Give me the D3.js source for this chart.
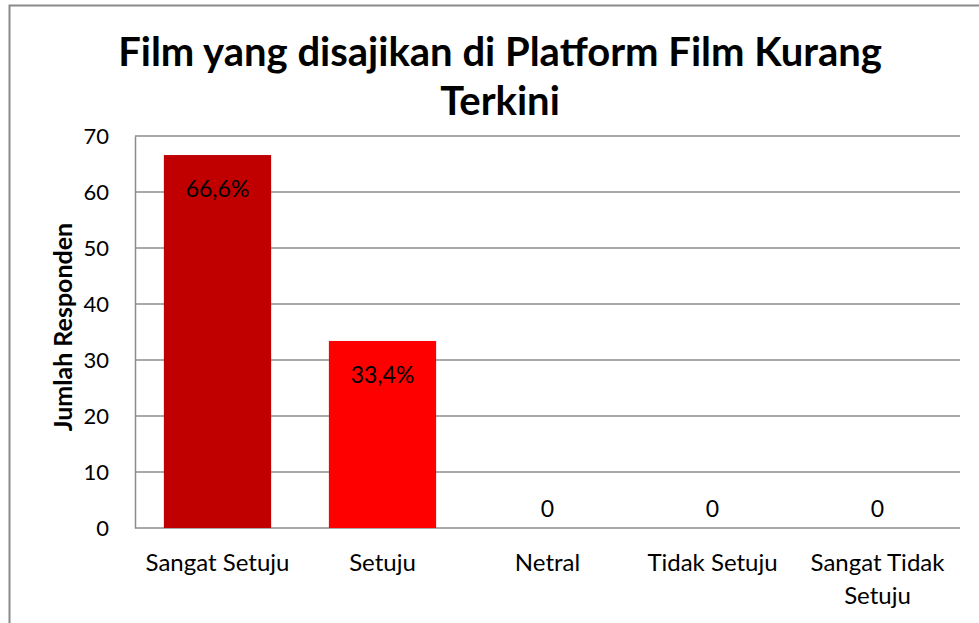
<!DOCTYPE html>
<html>
<head>
<meta charset="utf-8">
<style>
    body { margin: 0; background: #fff; }
    text { font-family: Lato, 'Open Sans', sans-serif; fill: #000; }
</style>
</head>
<body>
<script src="https://cdn.jsdelivr.net/npm/d3@7"></script>
<script>
    var categories = ['Sangat Setuju', 'Setuju', 'Netral', 'Tidak Setuju', 'Sangat Tidak Setuju'];
    var values = [66.6, 33.4, 0, 0, 0];
    var dataLabels = ['66,6%', '33,4%', '0', '0', '0'];
    var barColors = ['#C00000', '#FF0000', '#FF0000', '#FF0000', '#FF0000'];
    var yTicks = [0, 10, 20, 30, 40, 50, 60, 70];
    var titleLines = ['Film yang disajikan di Platform Film Kurang', 'Terkini'];
    var yTitle = 'Jumlah Responden';

    var W = 979, H = 623;
    var plot = {left: 135, top: 136, right: 960, bottom: 528};

    var svg = d3.select('body').append('svg')
        .attr('width', W)
        .attr('height', H);

    // outer chart border
    svg.append('rect')
        .attr('x', 9.5).attr('y', 5.5)
        .attr('width', W).attr('height', H)
        .attr('fill', 'none')
        .attr('stroke', '#8a8a8a')
        .attr('stroke-width', 2);

    var x = d3.scaleBand()
        .domain(categories)
        .range([plot.left, plot.right])
        .paddingInner(0.35)
        .paddingOuter(0.175);

    var y = d3.scaleLinear()
        .domain([0, 70])
        .range([plot.bottom, plot.top]);

    // gridlines
    svg.append('g')
        .selectAll('line')
        .data(yTicks.slice(1))
        .enter().append('line')
        .attr('x1', plot.left).attr('x2', plot.right)
        .attr('y1', d => y(d)).attr('y2', d => y(d))
        .attr('stroke', '#8c8c8c')
        .attr('stroke-width', 1.5);

    // y axis
    var yAxis = svg.append('g')
        .attr('transform', 'translate(' + plot.left + ',0)')
        .call(d3.axisLeft(y).tickValues(yTicks).tickSize(0).tickPadding(26));
    yAxis.select('.domain').attr('stroke', '#8c8c8c').attr('stroke-width', 1.5);
    yAxis.selectAll('text')
        .style('font-family', 'Lato, sans-serif')
        .style('font-size', '22px')
        .attr('fill', '#000');

    // x axis
    var xAxis = svg.append('g')
        .attr('transform', 'translate(0,' + plot.bottom + ')')
        .call(d3.axisBottom(x).tickSize(0).tickPadding(0).tickSizeOuter(0));
    xAxis.select('.domain')
        .attr('d', 'M' + plot.left + ',0H' + plot.right)
        .attr('stroke', '#8c8c8c').attr('stroke-width', 1.5);
    xAxis.selectAll('.tick text').remove();
    xAxis.selectAll('.tick').each(function(d) {
        var words = d.split(' ');
        var lines = d.length > 14 ? [words.slice(0, 2).join(' '), words.slice(2).join(' ')] : [d];
        var t = d3.select(this).append('text')
            .attr('text-anchor', 'middle')
            .style('font-size', '24px');
        lines.forEach((l, i) => {
            t.append('tspan')
                .attr('x', 0)
                .attr('y', 43 + i * 33)
                .text(l);
        });
    });

    // bars
    svg.append('g')
        .selectAll('rect')
        .data(values)
        .enter().append('rect')
        .attr('x', (d, i) => x(categories[i]))
        .attr('y', d => y(d))
        .attr('width', x.bandwidth())
        .attr('height', d => y(0) - y(d))
        .attr('fill', (d, i) => barColors[i]);

    // data labels
    svg.append('g')
        .selectAll('text')
        .data(values)
        .enter().append('text')
        .attr('x', (d, i) => x(categories[i]) + x.bandwidth() / 2)
        .attr('y', d => d > 0 ? y(d) + 42 : y(d) - 11)
        .attr('text-anchor', 'middle')
        .style('font-size', '23px')
        .text((d, i) => dataLabels[i]);

    // title
    var title = svg.append('text')
        .attr('text-anchor', 'middle')
        .style('font-size', '40px')
        .style('font-weight', 'bold');
    titleLines.forEach((l, i) => {
        title.append('tspan')
            .attr('x', 500)
            .attr('y', 66 + i * 49)
            .text(l);
    });

    // y axis title
    svg.append('text')
        .attr('transform', 'translate(72,327) rotate(-90)')
        .attr('text-anchor', 'middle')
        .style('font-size', '25px')
        .style('font-weight', 'bold')
        .text(yTitle);
</script>
</body>
</html>
